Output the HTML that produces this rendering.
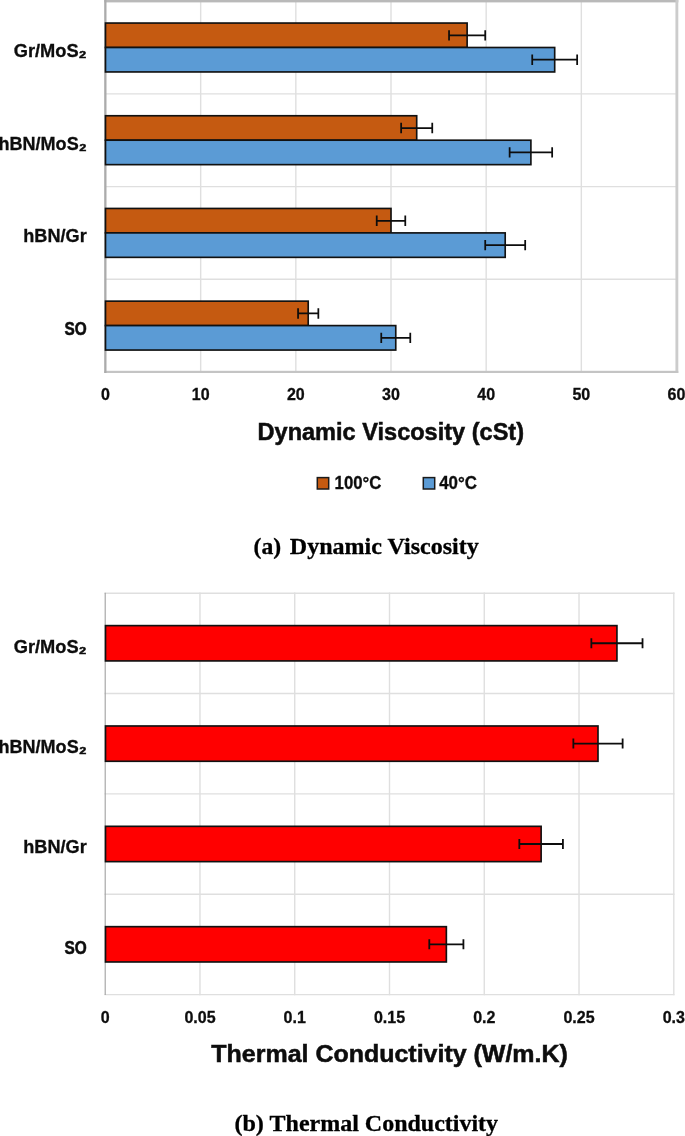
<!DOCTYPE html>
<html lang="en"><head><meta charset="utf-8"><title>Dynamic Viscosity and Thermal Conductivity</title>
<style>
html,body{margin:0;padding:0;background:#fff;}
body{width:685px;height:1136px;overflow:hidden;}
svg{display:block;will-change:transform;}
.s{font-family:"Liberation Sans", sans-serif;font-weight:700;fill:#0d0d0d;stroke:#0d0d0d;stroke-width:0.3;}
.t{stroke-width:0.5;}
.r{font-family:"Liberation Serif", serif;font-weight:700;fill:#000;stroke:#000;stroke-width:0.3;}
.g{stroke:#dfdfdf;stroke-width:1.4;stroke-linecap:square;}
.b{stroke:#111;stroke-width:1.65;}
.e{stroke:#0d0d0d;fill:none;}
path.e:not([stroke-width]){stroke-width:1.75;}
.lg{stroke:#1a1a1a;stroke-width:1.5;}
</style></head><body>
<svg width="685" height="1136" viewBox="0 0 685 1136">
<rect width="685" height="1136" fill="#ffffff"/>
<line class="g" x1="200.67" y1="1.2" x2="200.67" y2="372.0"/>
<line class="g" x1="295.83" y1="1.2" x2="295.83" y2="372.0"/>
<line class="g" x1="391.00" y1="1.2" x2="391.00" y2="372.0"/>
<line class="g" x1="486.17" y1="1.2" x2="486.17" y2="372.0"/>
<line class="g" x1="581.33" y1="1.2" x2="581.33" y2="372.0"/>
<line class="g" x1="676.50" y1="1.2" x2="676.50" y2="372.0"/>
<line class="g" x1="105.5" y1="93.90" x2="676.5" y2="93.90"/>
<line class="g" x1="105.5" y1="186.60" x2="676.5" y2="186.60"/>
<line class="g" x1="105.5" y1="279.30" x2="676.5" y2="279.30"/>
<rect x="104.3" y="0" width="574.0" height="2.4" fill="#b9b9b9"/>
<rect x="675.5" y="0" width="2.8" height="373.0" fill="#cccccc"/>
<rect x="104.3" y="370.8" width="574.0" height="2.2" fill="#c4c4c4"/>
<rect x="104.2" y="0" width="2.3" height="373.0" fill="#ababab"/>
<rect class="b" x="105.5" y="23.05" width="361.63" height="24.45" fill="#c55a11"/>
<rect class="b" x="105.5" y="47.50" width="449.19" height="24.45" fill="#5b9bd5"/>
<path class="e" d="M449.05 35.38H485.22M449.05 30.18v10.4M485.22 30.18v10.4"/>
<path class="e" d="M532.23 59.73H577.15M532.23 54.52v10.4M577.15 54.52v10.4"/>
<rect class="b" x="105.5" y="115.75" width="311.20" height="24.45" fill="#c55a11"/>
<rect class="b" x="105.5" y="140.20" width="425.40" height="24.45" fill="#5b9bd5"/>
<path class="e" d="M401.14 128.07H432.25M401.14 122.87v10.4M432.25 122.87v10.4"/>
<path class="e" d="M509.63 152.42H552.16M509.63 147.22v10.4M552.16 147.22v10.4"/>
<rect class="b" x="105.5" y="208.45" width="285.50" height="24.45" fill="#c55a11"/>
<rect class="b" x="105.5" y="232.90" width="399.70" height="24.45" fill="#5b9bd5"/>
<path class="e" d="M376.73 220.78H405.28M376.73 215.58v10.4M405.28 215.58v10.4"/>
<path class="e" d="M485.22 245.12H525.19M485.22 239.93v10.4M525.19 239.93v10.4"/>
<rect class="b" x="105.5" y="301.15" width="202.71" height="24.45" fill="#c55a11"/>
<rect class="b" x="105.5" y="325.60" width="290.26" height="24.45" fill="#5b9bd5"/>
<path class="e" d="M298.07 313.48H318.34M298.07 308.28v10.4M318.34 308.28v10.4"/>
<path class="e" d="M381.25 337.83H410.27M381.25 332.63v10.4M410.27 332.63v10.4"/>
<text class="s" x="86.7" y="56.6" font-size="18" text-anchor="end" textLength="73.0" lengthAdjust="spacingAndGlyphs">Gr/MoS<tspan style="stroke-width:0.55">₂</tspan></text>
<text class="s" x="86.7" y="149.5" font-size="18" text-anchor="end" textLength="88.2" lengthAdjust="spacingAndGlyphs">hBN/MoS<tspan style="stroke-width:0.55">₂</tspan></text>
<text class="s" x="86.7" y="242.4" font-size="18" text-anchor="end" textLength="63.4" lengthAdjust="spacingAndGlyphs">hBN/Gr</text>
<text class="s" x="86.7" y="335.30000000000007" font-size="18" text-anchor="end" textLength="22.2" lengthAdjust="spacingAndGlyphs" style="stroke-width:0.55">SO</text>
<text class="s" x="105.5" y="400.3" font-size="16" text-anchor="middle">0</text>
<text class="s" x="200.7" y="400.3" font-size="16" text-anchor="middle">10</text>
<text class="s" x="295.8" y="400.3" font-size="16" text-anchor="middle">20</text>
<text class="s" x="391.0" y="400.3" font-size="16" text-anchor="middle">30</text>
<text class="s" x="486.2" y="400.3" font-size="16" text-anchor="middle">40</text>
<text class="s" x="581.3" y="400.3" font-size="16" text-anchor="middle">50</text>
<text class="s" x="676.5" y="400.3" font-size="16" text-anchor="middle">60</text>
<text class="s t" x="390.8" y="440.0" font-size="23.2" text-anchor="middle" textLength="266.5" lengthAdjust="spacingAndGlyphs">Dynamic Viscosity (cSt)</text>
<rect class="lg" x="317.3" y="477.6" width="11.4" height="11.4" fill="#c55a11"/>
<text class="s" x="334.6" y="488.8" font-size="18" text-anchor="start" textLength="46.8" lengthAdjust="spacingAndGlyphs">100°C</text>
<rect class="lg" x="423.3" y="477.6" width="11.4" height="11.4" fill="#5b9bd5"/>
<text class="s" x="439.2" y="488.8" font-size="18" text-anchor="start" textLength="37.8" lengthAdjust="spacingAndGlyphs">40°C</text>
<text class="r" x="253.6" y="553.5" font-size="23" text-anchor="start" textLength="27.6" lengthAdjust="spacingAndGlyphs">(a)</text>
<text class="r" x="289.8" y="553.5" font-size="23" text-anchor="start" textLength="189" lengthAdjust="spacingAndGlyphs">Dynamic Viscosity</text>
<line class="g" x1="199.97" y1="593.2" x2="199.97" y2="994.6"/>
<line class="g" x1="294.73" y1="593.2" x2="294.73" y2="994.6"/>
<line class="g" x1="389.50" y1="593.2" x2="389.50" y2="994.6"/>
<line class="g" x1="484.27" y1="593.2" x2="484.27" y2="994.6"/>
<line class="g" x1="579.03" y1="593.2" x2="579.03" y2="994.6"/>
<line class="g" x1="673.80" y1="593.2" x2="673.80" y2="994.6"/>
<line class="g" x1="105.2" y1="593.20" x2="673.8" y2="593.20"/>
<line class="g" x1="105.2" y1="693.55" x2="673.8" y2="693.55"/>
<line class="g" x1="105.2" y1="793.90" x2="673.8" y2="793.90"/>
<line class="g" x1="105.2" y1="894.25" x2="673.8" y2="894.25"/>
<line class="g" x1="105.2" y1="994.60" x2="673.8" y2="994.60"/>
<line x1="105.2" y1="592.7" x2="105.2" y2="995.1" stroke="#a0a0a0" stroke-width="1.1"/>
<rect class="b" x="105.5" y="625.62" width="511.44" height="35.3" fill="#ff0000"/>
<path class="e" stroke-width="1.8" d="M591.35 643.27H642.53M591.35 638.27v10M642.53 638.27v10"/>
<rect class="b" x="105.5" y="725.98" width="492.49" height="35.3" fill="#ff0000"/>
<path class="e" stroke-width="1.8" d="M573.35 743.62H622.63M573.35 738.62v10M622.63 738.62v10"/>
<rect class="b" x="105.5" y="826.33" width="435.63" height="35.3" fill="#ff0000"/>
<path class="e" stroke-width="1.8" d="M519.33 843.98H562.92M519.33 838.98v10M562.92 838.98v10"/>
<rect class="b" x="105.5" y="926.67" width="340.86" height="35.3" fill="#ff0000"/>
<path class="e" stroke-width="1.8" d="M429.30 944.32H463.42M429.30 939.32v10M463.42 939.32v10"/>
<text class="s" x="86.7" y="652.7" font-size="18" text-anchor="end" textLength="73.0" lengthAdjust="spacingAndGlyphs">Gr/MoS<tspan style="stroke-width:0.55">₂</tspan></text>
<text class="s" x="86.7" y="753.0" font-size="18" text-anchor="end" textLength="88.2" lengthAdjust="spacingAndGlyphs">hBN/MoS<tspan style="stroke-width:0.55">₂</tspan></text>
<text class="s" x="86.7" y="853.3000000000001" font-size="18" text-anchor="end" textLength="63.4" lengthAdjust="spacingAndGlyphs">hBN/Gr</text>
<text class="s" x="86.7" y="953.6" font-size="18" text-anchor="end" textLength="22.2" lengthAdjust="spacingAndGlyphs" style="stroke-width:0.55">SO</text>
<text class="s" x="105.2" y="1022.5" font-size="16" text-anchor="middle">0</text>
<text class="s" x="200.0" y="1022.5" font-size="16" text-anchor="middle">0.05</text>
<text class="s" x="294.7" y="1022.5" font-size="16" text-anchor="middle">0.1</text>
<text class="s" x="389.5" y="1022.5" font-size="16" text-anchor="middle">0.15</text>
<text class="s" x="484.3" y="1022.5" font-size="16" text-anchor="middle">0.2</text>
<text class="s" x="579.0" y="1022.5" font-size="16" text-anchor="middle">0.25</text>
<text class="s" x="673.8" y="1022.5" font-size="16" text-anchor="middle">0.3</text>
<text class="s t" x="389.6" y="1062.0" font-size="23" text-anchor="middle" textLength="356.5" lengthAdjust="spacingAndGlyphs">Thermal Conductivity (W/m.K)</text>
<text class="r" x="234.4" y="1130.5" font-size="23" text-anchor="start" textLength="29.5" lengthAdjust="spacingAndGlyphs">(b)</text>
<text class="r" x="269.6" y="1130.5" font-size="23" text-anchor="start" textLength="228.5" lengthAdjust="spacingAndGlyphs">Thermal Conductivity</text>
</svg>
</body></html>
